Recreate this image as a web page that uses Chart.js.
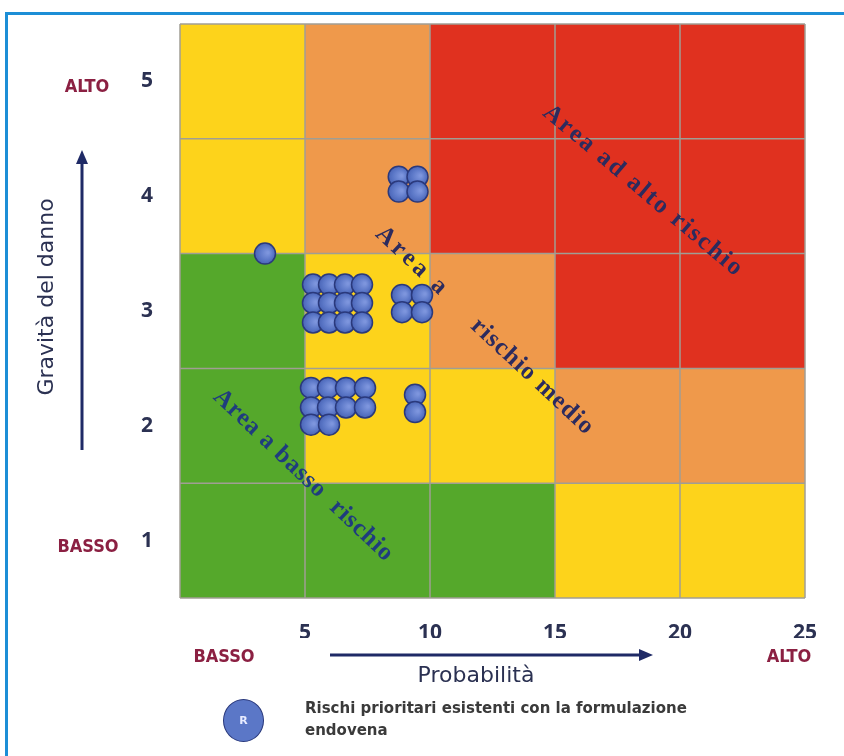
<!DOCTYPE html>
<html lang="it">
<head>
<meta charset="utf-8">
<title>Matrice del rischio</title>
<script src="https://cdn.jsdelivr.net/npm/chart.js@4.4.1/dist/chart.umd.min.js"></script>
<style>
    html, body { margin: 0; padding: 0; background: #fff; overflow: hidden; }
    #wrap { position: relative; width: 844px; height: 756px; }
    #frame { position: absolute; left: 5px; top: 12px; width: 900px; height: 800px; border: 3px solid #1c8ed6; box-sizing: border-box; }
    #chart { position: absolute; left: 0; top: 0; }
    #legend { position: absolute; left: 223px; top: 699px; display: flex; align-items: flex-start; }
    #legend .dot { width: 41px; height: 43px; border-radius: 50%; background: #5b77c7; border: 1.5px solid #2a397c; box-sizing: border-box;
                   color: #e8ecff; font: bold 11px "DejaVu Sans", sans-serif; display: flex; align-items: center; justify-content: center; }
    #legend .txt { margin-left: 41px; margin-top: -2px; font: bold 15px "DejaVu Sans", sans-serif; line-height: 22px; color: #3a3a3a; }
</style>
</head>
<body>
<div id="wrap">
    <div id="frame"></div>
    <canvas id="chart" width="844" height="756"></canvas>
    <div id="legend">
        <div class="dot">R</div>
        <div class="txt">Rischi prioritari esistenti con la formulazione<br>endovena</div>
    </div>
</div>
<script>
// ==========================================
// DATI
// ==========================================
const probTicks = [5, 10, 15, 20, 25];
const gravTicks = [1, 2, 3, 4, 5];

// livello di rischio per cella: righe gravità 1..5, colonne probabilità 1..5
// 1 = verde, 2 = giallo, 3 = arancio, 4 = rosso
const riskMatrix = [
    [1, 1, 1, 2, 2],
    [1, 2, 2, 3, 3],
    [1, 2, 3, 4, 4],
    [2, 3, 4, 4, 4],
    [2, 3, 4, 4, 4]
];

// rischi prioritari (probabilità, gravità)
const riskX = [3.4,
    8.75, 9.5, 8.75, 9.5,
    5.32, 5.96, 6.6, 7.28, 5.32, 5.96, 6.6, 7.28, 5.32, 5.96, 6.6, 7.28,
    8.88, 9.68, 8.88, 9.68,
    5.24, 5.92, 6.64, 7.4, 5.24, 5.92, 6.64, 7.4, 5.24, 5.96,
    9.4, 9.4];
const riskY = [3.5,
    4.17, 4.17, 4.04, 4.04,
    3.23, 3.23, 3.23, 3.23, 3.07, 3.07, 3.07, 3.07, 2.9, 2.9, 2.9, 2.9,
    3.14, 3.14, 2.99, 2.99,
    2.33, 2.33, 2.33, 2.33, 2.16, 2.16, 2.16, 2.16, 2.01, 2.01,
    2.27, 2.12];

const zoneTexts = ['Area ad alto rischio', 'Area a', 'rischio medio', 'Area a basso  rischio'];

// ==========================================
// STILI
// ==========================================
const levelColors = { 1: '#55a82b', 2: '#fdd31b', 3: '#ef994b', 4: '#e0311f' };
const navy = '#2b3152';
const darkRed = '#8b2042';

// posizione (in valori del grafico), angolo, lunghezza, colore delle scritte diagonali
const zoneStyle = [
    { x: 18.5, y: 4.05, angle: 40, len: 252, color: '#2c2b5e' },
    { x: 9.24, y: 3.44, angle: 43, len: 88, color: '#2c2b5e' },
    { x: 14.08, y: 2.43, angle: 43, len: 158, color: '#2c2b5e' },
    { x: 4.92, y: 1.57, angle: 43.5, len: 238, color: '#1f3c7e' }
];

function spacedText(ctx, text, cx, cy, angleDeg, targetLen) {
    ctx.save();
    ctx.translate(cx, cy);
    ctx.rotate(angleDeg * Math.PI / 180);
    const chars = [...text];
    const widths = chars.map(c => ctx.measureText(c).width);
    const total = widths.reduce((a, b) => a + b, 0);
    const gap = (targetLen - total) / (chars.length - 1);
    let px = -targetLen / 2;
    chars.forEach((c, i) => { ctx.fillText(c, px, 0); px += widths[i] + gap; });
    ctx.restore();
}

function arrow(ctx, x0, y0, x1, y1) {
    const a = Math.atan2(y1 - y0, x1 - x0);
    ctx.beginPath();
    ctx.moveTo(x0, y0);
    ctx.lineTo(x1 - 12 * Math.cos(a), y1 - 12 * Math.sin(a));
    ctx.stroke();
    ctx.beginPath();
    ctx.moveTo(x1, y1);
    ctx.lineTo(x1 - 14 * Math.cos(a) + 6 * Math.sin(a), y1 - 14 * Math.sin(a) - 6 * Math.cos(a));
    ctx.lineTo(x1 - 14 * Math.cos(a) - 6 * Math.sin(a), y1 - 14 * Math.sin(a) + 6 * Math.cos(a));
    ctx.closePath();
    ctx.fill();
}

// riempimento sfumato delle palline
function bubbleFill(context) {
    const chart = context.chart;
    const { x, y } = chart.scales;
    if (!x || !y || !context.parsed) return '#5b77c7';
    const px = x.getPixelForValue(context.parsed.x);
    const py = y.getPixelForValue(context.parsed.y);
    if (!isFinite(px) || !isFinite(py)) return '#5b77c7';
    const g = chart.ctx.createRadialGradient(px + 3, py - 1, 1, px, py, 11);
    g.addColorStop(0, '#7d95dd');
    g.addColorStop(0.6, '#5b77c7');
    g.addColorStop(1, '#4862b4');
    return g;
}

const riskPlugin = {
    id: 'riskMatrix',
    beforeDatasetsDraw(chart) {
        const { ctx, scales: { x, y } } = chart;
        ctx.save();
        // celle colorate
        riskMatrix.forEach((row, r) => row.forEach((lvl, c) => {
            const x0 = x.getPixelForValue(c * 5), x1 = x.getPixelForValue((c + 1) * 5);
            const y0 = y.getPixelForValue(r + 1.5), y1 = y.getPixelForValue(r + 0.5);
            ctx.fillStyle = levelColors[lvl];
            ctx.fillRect(x0, y0, x1 - x0, y1 - y0);
        }));
        // griglia
        ctx.strokeStyle = '#a09e94';
        ctx.lineWidth = 1.5;
        for (let v = 0; v <= 25; v += 5) {
            const px = x.getPixelForValue(v);
            ctx.beginPath(); ctx.moveTo(px, y.top); ctx.lineTo(px, y.bottom); ctx.stroke();
        }
        for (let v = 0.5; v <= 5.5; v += 1) {
            const py = y.getPixelForValue(v);
            ctx.beginPath(); ctx.moveTo(x.left, py); ctx.lineTo(x.right, py); ctx.stroke();
        }
        // scritte delle aree
        ctx.font = 'bold 25px "Liberation Serif", serif';
        ctx.textBaseline = 'middle';
        zoneTexts.forEach((t, i) => {
            const s = zoneStyle[i];
            ctx.fillStyle = s.color;
            spacedText(ctx, t, x.getPixelForValue(s.x), y.getPixelForValue(s.y), s.angle, s.len);
        });
        ctx.restore();
    },
    afterDraw(chart) {
        const { ctx, scales: { x, y } } = chart;
        ctx.save();
        ctx.strokeStyle = '#1f2a66';
        ctx.fillStyle = '#1f2a66';
        ctx.lineWidth = 3;
        arrow(ctx, 82, 450, 82, 150);
        arrow(ctx, 330, 655, 653, 655);

        ctx.fillStyle = navy;
        ctx.textAlign = 'center';
        ctx.textBaseline = 'middle';
        ctx.font = '22px "DejaVu Sans", sans-serif';
        ctx.fillText('Probabilità', 476, 676);
        ctx.save();
        ctx.translate(47, 297);
        ctx.rotate(-Math.PI / 2);
        ctx.fillText('Gravità del danno', 0, 0);
        ctx.restore();

        ctx.fillStyle = darkRed;
        ctx.font = 'bold 18px "Liberation Sans Narrow", "DejaVu Sans Condensed", "DejaVu Sans", sans-serif';
        ctx.fillText('ALTO', 87, y.getPixelForValue(5) + 6);
        ctx.fillText('BASSO', 88, y.getPixelForValue(1) + 7);
        ctx.fillText('BASSO', 224, 657);
        ctx.fillText('ALTO', 789, 657);
        ctx.restore();
    }
};

// ==========================================
// GRAFICO
// ==========================================
const tickFont = { family: '"Open Sans", sans-serif', size: 21, weight: 'bold' };

new Chart(document.getElementById('chart'), {
    type: 'scatter',
    data: {
        datasets: [{
            data: riskX.map((v, i) => ({ x: v, y: riskY[i] })),
            pointRadius: 10.5,
            pointBackgroundColor: bubbleFill,
            pointBorderColor: '#2a397c',
            pointBorderWidth: 1.5
        }]
    },
    options: {
        responsive: false,
        animation: false,
        events: [],
        layout: { padding: { left: 120, top: 24, right: 39, bottom: 118 } },
        plugins: { legend: { display: false }, tooltip: { enabled: false } },
        scales: {
            x: {
                type: 'linear', min: 0, max: 25,
                afterBuildTicks: s => { s.ticks = probTicks.map(v => ({ value: v })); },
                afterFit: s => { s.height = 40; s.paddingLeft = 0; s.paddingRight = 0; },
                grid: { display: false, drawTicks: false },
                border: { display: false },
                ticks: { padding: 22, color: navy, font: tickFont, maxRotation: 0 }
            },
            y: {
                type: 'linear', min: 0.5, max: 5.5,
                afterBuildTicks: s => { s.ticks = gravTicks.map(v => ({ value: v })); },
                afterFit: s => { s.width = 60; s.paddingTop = 0; s.paddingBottom = 0; },
                grid: { display: false, drawTicks: false },
                border: { display: false },
                ticks: { padding: 27, color: navy, font: tickFont }
            }
        }
    },
    plugins: [riskPlugin]
});
</script>
</body>
</html>
